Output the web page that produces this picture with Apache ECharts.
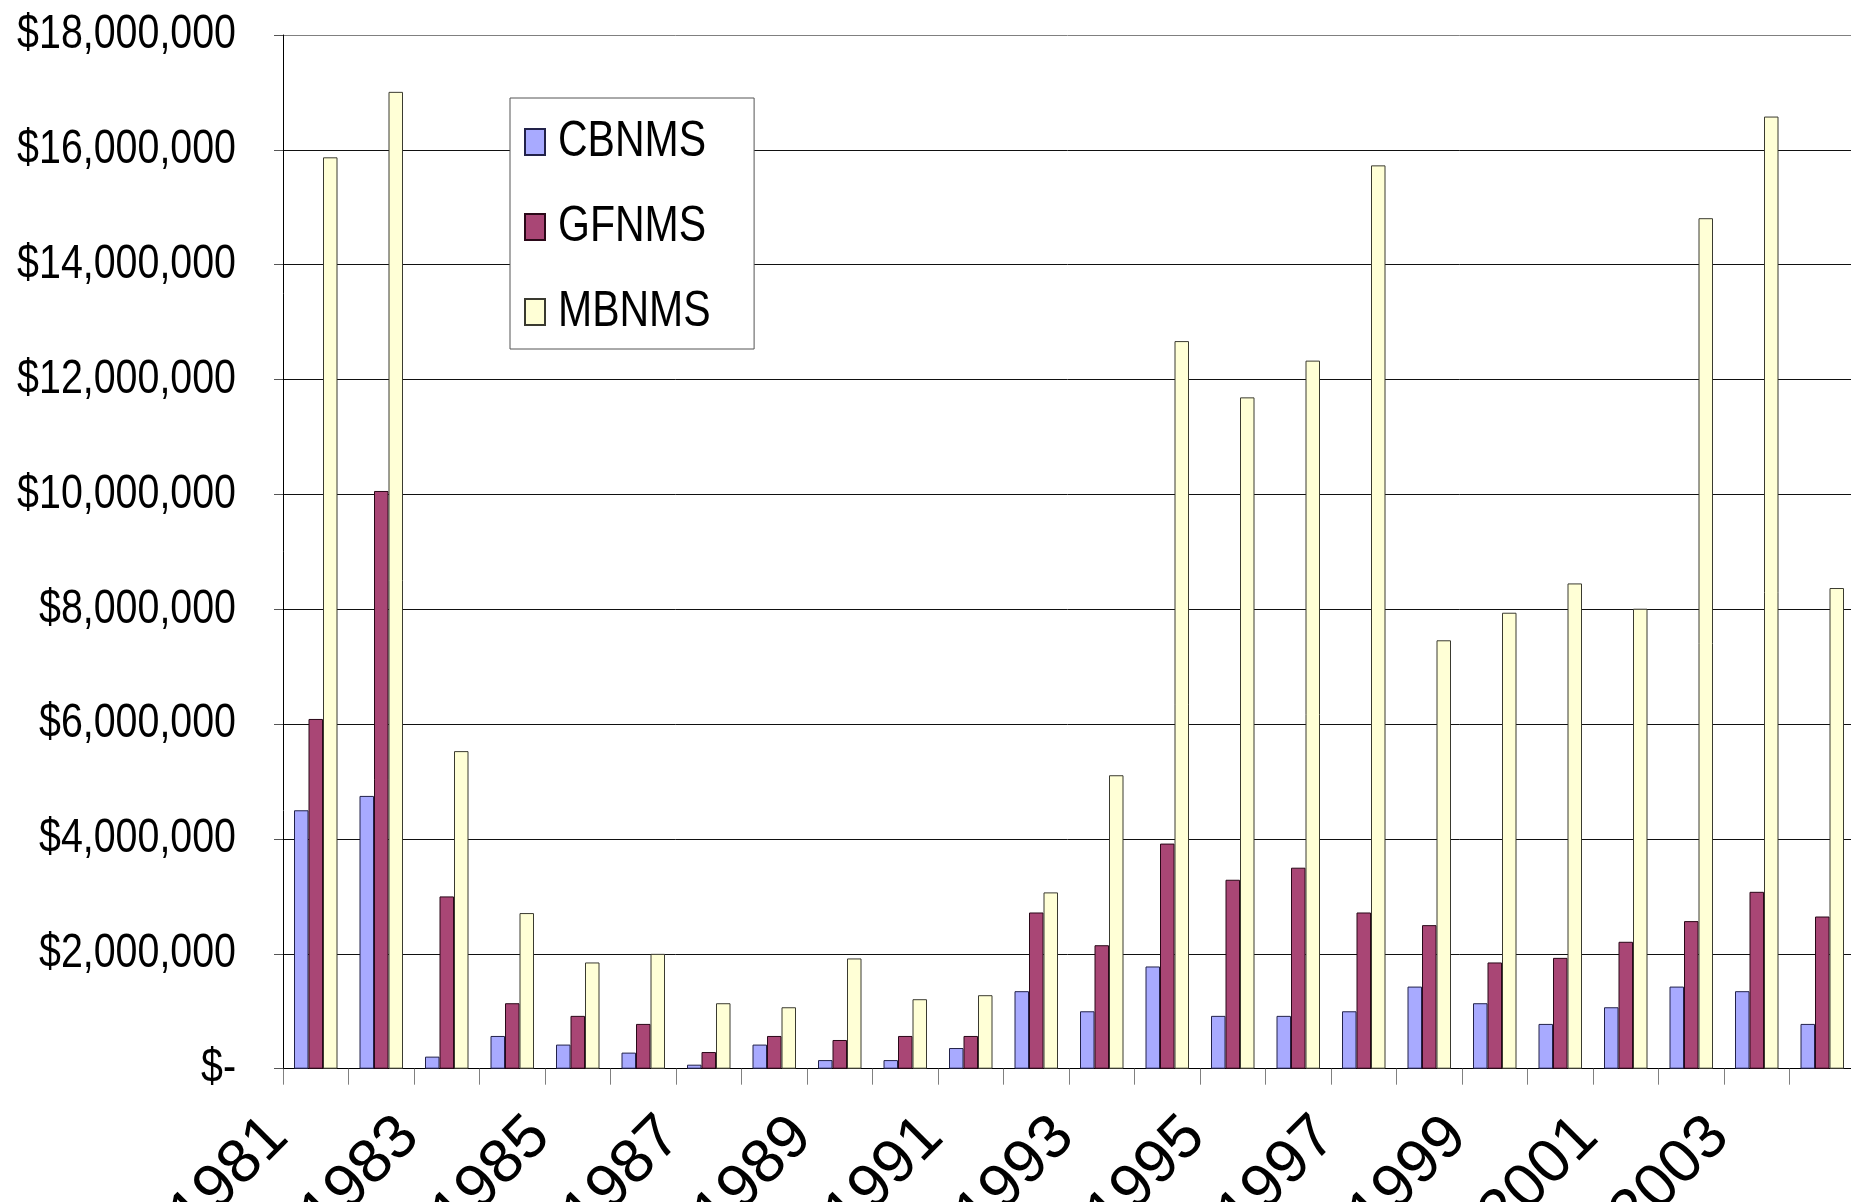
<!DOCTYPE html>
<html>
<head>
<meta charset="utf-8">
<script src="https://cdn.jsdelivr.net/npm/echarts@6/dist/echarts.min.js"></script>
<style>
html,body{margin:0;padding:0;background:#fff;}
#chart{width:1851px;height:1202px;}
</style>
</head>
<body>
<div id="chart"></div>
<script>
const years = ['1981','1982','1983','1984','1985','1986','1987','1988','1989','1990','1991','1992','1993','1994','1995','1996','1997','1998','1999','2000','2001','2002','2003','2004'];
const cbnms = [4500000,4750000,210000,570000,420000,280000,70000,420000,150000,150000,360000,1350000,1000000,1780000,920000,920000,1000000,1430000,1140000,780000,1070000,1430000,1350000,780000];
const gfnms = [6090000,10060000,3000000,1140000,920000,780000,290000,570000,500000,570000,570000,2720000,2150000,3920000,3290000,3500000,2720000,2500000,1850000,1930000,2210000,2570000,3080000,2650000];
const mbnms = [15870000,17010000,5530000,2710000,1850000,2000000,1140000,1070000,1920000,1210000,1280000,3070000,5110000,12670000,11690000,12330000,15730000,7460000,7940000,8450000,8010000,14810000,16580000,8370000];
const yTickLabels = ['$-','$2,000,000','$4,000,000','$6,000,000','$8,000,000','$10,000,000','$12,000,000','$14,000,000','$16,000,000','$18,000,000'];

const FONT = "'Liberation Sans',Arial,sans-serif";
const NARROW = 0.82; // horizontal condensing of unrotated text, to mimic Arial Narrow

(function(){
  const proto = CanvasRenderingContext2D.prototype;
  const origFill = proto.fillText;
  proto.fillText = function(text, x, y, maxWidth){
    const m = this.getTransform();
    if (Math.abs(m.b) > 1e-6 || Math.abs(m.c) > 1e-6) {
      return maxWidth !== undefined ? origFill.call(this, text, x, y, maxWidth) : origFill.call(this, text, x, y);
    }
    this.save(); this.translate(x, y); this.scale(NARROW, 1);
    if (maxWidth !== undefined) origFill.call(this, text, 0, 0, maxWidth / NARROW); else origFill.call(this, text, 0, 0);
    this.restore();
  };
})();

const dom = document.getElementById('chart');
const chart = echarts.init(dom, null, {renderer:'canvas'});
const gridColors = ['#000','#111','#111','#111','#111','#111','#111','#111','#111','#808080'];
chart.setOption({
  animation:false,
  backgroundColor:'#fff',
  grid:{left:283, top:35, height:1033.7, width:1572, outerBoundsMode:'none'},
  legend:{
    orient:'vertical', left:510, top:98,
    backgroundColor:'#fff', borderColor:'#555', borderWidth:1,
    padding:[19,10,12,14], itemGap:35,
    itemWidth:20, itemHeight:26, icon:'rect',
    formatter:function(n){return '{t|'+n+'}';},
    textStyle:{fontFamily:FONT, fontSize:50, color:'#000',
      rich:{t:{fontFamily:FONT, fontSize:50, color:'#000', width:156, padding:[0,0,0,8]}}},
    data:['CBNMS','GFNMS','MBNMS']
  },
  xAxis:{
    type:'category', data:years, boundaryGap:true,
    axisLine:{show:true, lineStyle:{color:'#000', width:1}},
    axisTick:{show:true, interval:0, length:16, lineStyle:{color:'#808080'}},
    axisLabel:{interval:1, rotate:45, fontFamily:FONT, fontSize:62, color:'#000',
      margin:96, verticalAlign:'bottom', padding:[0,0,22,0]},
    splitLine:{show:false}
  },
  yAxis:{
    type:'value', min:0, max:18000000, interval:2000000,
    axisLine:{show:true, lineStyle:{color:'#000', width:1}},
    axisTick:{show:true, length:9, lineStyle:{color:'#555'}},
    axisLabel:{fontFamily:FONT, fontSize:48, color:'#000', margin:47,
      formatter:function(v){return yTickLabels[Math.round(v/2000000)];}},
    splitLine:{show:true, lineStyle:{color:gridColors, width:1}}
  },
  series:[
    {name:'CBNMS', type:'bar', data:cbnms, barWidth:14.5, barGap:'0%',
     itemStyle:{color:'#A8AAFF', borderColor:'#22224a', borderWidth:1}},
    {name:'GFNMS', type:'bar', data:gfnms, barWidth:14.5, barGap:'0%',
     itemStyle:{color:'#A94675', borderColor:'#2a0818', borderWidth:1}},
    {name:'MBNMS', type:'bar', data:mbnms, barWidth:14.5, barGap:'0%',
     itemStyle:{color:'#FFFFD6', borderColor:'#3a3a30', borderWidth:1}}
  ]
});
</script>
</body>
</html>
